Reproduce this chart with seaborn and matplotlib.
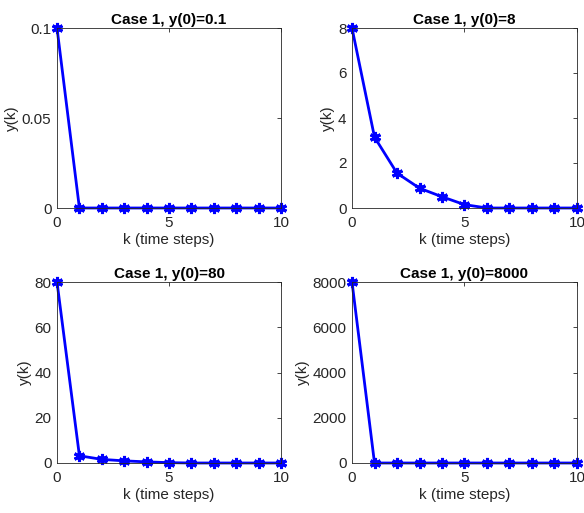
import matplotlib
matplotlib.use("Agg")
import matplotlib.pyplot as plt
import seaborn as sns
import pandas as pd

sns.set_style("white")
plt.rcParams['font.family'] = ['Liberation Sans', 'DejaVu Sans']

k = [0, 1, 2, 3, 4, 5, 6, 7, 8, 9, 10]
y_01 = [0.1, 0, 0, 0, 0, 0, 0, 0, 0, 0, 0]
y_8 = [8, 3.15, 1.55, 0.88, 0.5, 0.15, 0, 0, 0, 0, 0]
y_80 = [80, 3.2, 1.6, 0.95, 0.5, 0.15, 0, 0, 0, 0, 0]
y_8000 = [8000, 0, 0, 0, 0, 0, 0, 0, 0, 0, 0]
titles = ["Case 1, y(0)=0.1", "Case 1, y(0)=8", "Case 1, y(0)=80", "Case 1, y(0)=8000"]
series = [y_01, y_8, y_80, y_8000]
yticks = [[0, 0.05, 0.1], [0, 2, 4, 6, 8], [0, 20, 40, 60, 80], [0, 2000, 4000, 6000, 8000]]
yticklabels = [["0", "0.05", "0.1"], ["0", "2", "4", "6", "8"], ["0", "20", "40", "60", "80"],
               ["0", "2000", "4000", "6000", "8000"]]

W, H = 584, 513
fig = plt.figure(figsize=(W / 100, H / 100), dpi=100)
boxes = [(57, 28, 281, 208), (352, 28, 577, 208), (57, 282, 281, 463), (352, 282, 577, 463)]
asterisk = (6, 2, 0)
for i, (x0, y0, x1, y1) in enumerate(boxes):
    ax = fig.add_axes([x0 / W, 1 - y1 / H, (x1 - x0) / W, (y1 - y0) / H])
    df = pd.DataFrame({"k": k, "y": series[i]})
    sns.lineplot(data=df, x="k", y="y", ax=ax, color="#0000ff", linewidth=2,
                 marker=asterisk, markersize=8, markeredgewidth=2.2,
                 markeredgecolor="#0000ff", markerfacecolor="#0000ff", clip_on=False)
    ax.set_xlim(0, 10)
    ax.set_ylim(0, yticks[i][-1])
    ax.set_xticks([0, 5, 10])
    ax.set_xticklabels(["0", "5", "10"])
    ax.set_yticks(yticks[i])
    ax.set_yticklabels(yticklabels[i])
    ax.tick_params(direction="in", length=3, width=0.6, top=True, right=True,
                   labelsize=11, colors="#262626")
    ax.tick_params(axis="x", pad=6)
    ax.tick_params(axis="y", pad=4)
    for s in ax.spines.values():
        s.set_color("#262626")
        s.set_linewidth(0.6)
    ax.set_xlabel("k (time steps)", fontsize=11, color="#262626", labelpad=2)
    ax.set_ylabel("y(k)", fontsize=11, color="#262626", labelpad=2)
    ax.set_title(titles[i], fontsize=11, fontweight="bold", color="black", pad=3)

fig.savefig("out.png", dpi=100)
